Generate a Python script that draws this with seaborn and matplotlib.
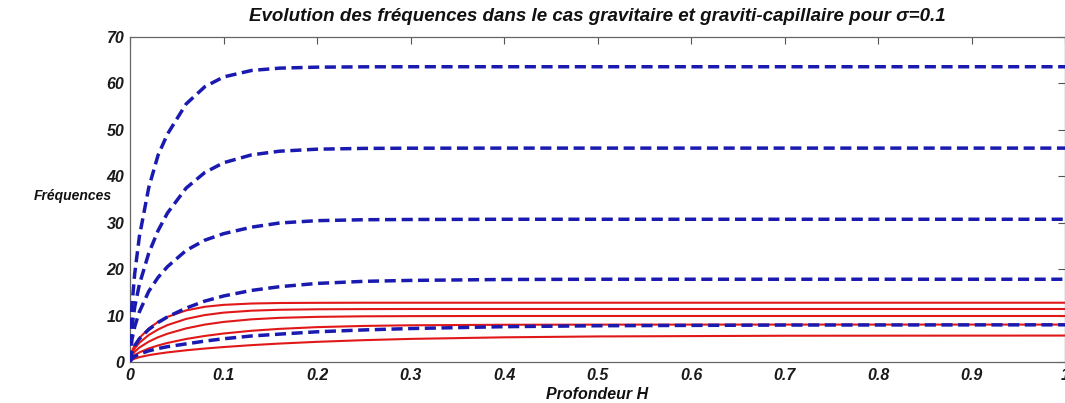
import matplotlib
matplotlib.use("Agg")
import matplotlib.pyplot as plt
import seaborn as sns

# Depth samples (m)
H = [0, 0.002, 0.005, 0.01, 0.02, 0.03, 0.04, 0.06, 0.08, 0.1, 0.13, 0.16,
     0.2, 0.25, 0.3, 0.4, 0.5, 0.7, 1.0]

# Gravity waves: first five modes
grav_1 = [0, 0.46, 0.73, 1.04, 1.47, 1.79, 2.07, 2.52, 2.90, 3.22, 3.63, 3.97,
          4.34, 4.70, 4.97, 5.31, 5.50, 5.65, 5.69]
grav_2 = [0, 0.93, 1.46, 2.07, 2.92, 3.56, 4.10, 4.95, 5.61, 6.13, 6.72, 7.13,
          7.50, 7.76, 7.90, 8.01, 8.04, 8.05, 8.05]
grav_3 = [0, 1.39, 2.20, 3.11, 4.38, 5.33, 6.08, 7.23, 8.05, 8.62, 9.18, 9.50,
          9.71, 9.83, 9.87, 9.90, 9.90, 9.90, 9.90]
grav_4 = [0, 1.85, 2.93, 4.14, 5.80, 7.00, 7.94, 9.27, 10.10, 10.62, 11.04, 11.24,
          11.34, 11.38, 11.40, 11.40, 11.40, 11.40, 11.40]
grav_5 = [0, 2.32, 3.66, 5.16, 7.21, 8.64, 9.71, 11.10, 11.88, 12.29, 12.58, 12.69,
          12.73, 12.75, 12.75, 12.75, 12.75, 12.75, 12.75]

# Gravity-capillary waves (sigma = 0.1): first five modes
capi_1 = [0, 0.75, 1.2, 1.7, 2.4, 2.9, 3.3, 3.9, 4.5, 5.0, 5.6, 6.0,
          6.5, 6.9, 7.2, 7.6, 7.8, 7.95, 8.0]
capi_2 = [0, 2.2, 3.5, 5.0, 7.0, 8.5, 9.7, 11.6, 13.1, 14.2, 15.4, 16.2,
          16.9, 17.35, 17.55, 17.75, 17.8, 17.8, 17.8]
capi_3 = [0, 4.8, 7.6, 10.8, 15.2, 18.2, 20.5, 24.0, 26.2, 27.6, 29.0, 29.9,
          30.4, 30.6, 30.65, 30.7, 30.7, 30.7, 30.7]
capi_4 = [0, 7.48, 11.83, 16.69, 23.40, 28.26, 32.03, 37.40, 40.76, 42.85, 44.55, 45.34,
          45.77, 45.94, 45.98, 46.0, 46.0, 46.0, 46.0]
capi_5 = [0, 12.0, 19.0, 27.0, 37.5, 44.5, 49.0, 55.5, 59.2, 61.3, 62.7, 63.2,
          63.41, 63.48, 63.5, 63.5, 63.5, 63.5, 63.5]

gravity = [grav_1, grav_2, grav_3, grav_4, grav_5]
capillary = [capi_1, capi_2, capi_3, capi_4, capi_5]

x_ticks = [0, 0.1, 0.2, 0.3, 0.4, 0.5, 0.6, 0.7, 0.8, 0.9, 1]
x_tick_labels = ["0", "0.1", "0.2", "0.3", "0.4", "0.5", "0.6", "0.7", "0.8", "0.9", "1"]
y_ticks = [0, 10, 20, 30, 40, 50, 60, 70]
y_tick_labels = ["0", "10", "20", "30", "40", "50", "60", "70"]

sns.set_theme(style="white")
plt.rcParams["font.family"] = ["Liberation Sans", "DejaVu Sans"]
plt.rcParams["font.weight"] = "bold"
plt.rcParams["font.style"] = "italic"

fig = plt.figure(figsize=(10.65, 4.03), dpi=100)
ax = fig.add_axes([0.1221, 0.1017, 0.8779, 0.8077])

for curve in gravity:
    sns.lineplot(x=H, y=curve, ax=ax, color="#e01818", linewidth=1.5,
                 estimator=None, sort=False, zorder=2)
for curve in capillary:
    sns.lineplot(x=H, y=curve, ax=ax, color="#1a1ab0", linewidth=2.5,
                 linestyle=(0, (3.2, 1.6)), estimator=None, sort=False, zorder=3)

ax.set_xlim(0, 1)
ax.set_ylim(0, 70)
ax.set_xticks(x_ticks)
ax.set_xticklabels(x_tick_labels)
ax.set_yticks(y_ticks)
ax.set_yticklabels(y_tick_labels)
ax.tick_params(direction="in", length=5, width=0.8, color="#555555",
               top=True, right=True, labelsize=11.5, pad=4, labelcolor="#1a1a1a")
for lab in ax.get_xticklabels() + ax.get_yticklabels():
    lab.set_fontweight("bold")
    lab.set_fontstyle("italic")

for side in ["left", "right", "top", "bottom"]:
    ax.spines[side].set_visible(True)
    ax.spines[side].set_color("#666666")
    ax.spines[side].set_linewidth(0.9)

ax.set_title("Evolution des fréquences dans le cas gravitaire et graviti-capillaire pour σ=0.1",
             fontsize=13.5, fontweight="bold", fontstyle="italic", pad=11, color="#111111")
ax.set_xlabel("Profondeur H", fontsize=11.5, fontweight="bold", fontstyle="italic",
              va="center", color="#111111")
ax.xaxis.set_label_coords(0.4995, -0.101)
ax.set_ylabel("Fréquences", fontsize=10, fontweight="bold", fontstyle="italic",
              rotation=0, ha="center", va="center", color="#111111")
ax.yaxis.set_label_coords(-0.061, 0.51)

fig.savefig("out.png", dpi=100, facecolor="white")
